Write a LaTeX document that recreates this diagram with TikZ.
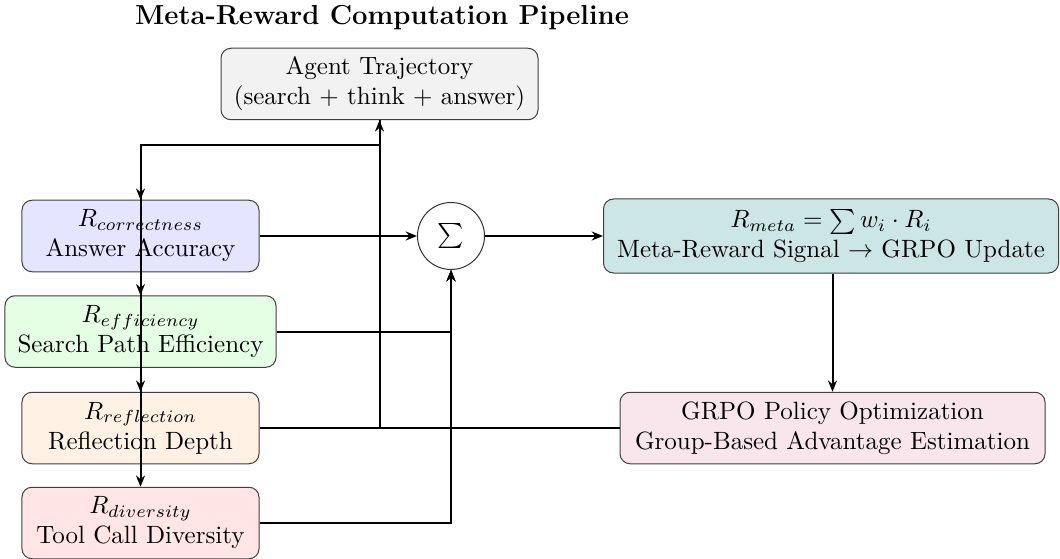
\documentclass[tikz,border=0pt]{standalone}
\usetikzlibrary{arrows.meta,positioning}
\begin{document}
\begin{tikzpicture}[x=0.4pt,y=-0.4pt,
  box/.style={draw=black!75, rounded corners=4pt, align=center, inner sep=3pt, minimum height=28.6pt},
  arr/.style={thick, -{Stealth[length=4.5pt,width=3.6pt]}},
  ln/.style={thick}]
\useasboundingbox (0,0) rectangle (1060,559);
\node[font=\fontsize{11}{13}\selectfont\bfseries] (title) at (382,18) {Meta-Reward Computation Pipeline};
\node[box, fill=black!5, minimum width=126.8pt] (agent) at (379.5,84) {Agent Trajectory\\(search + think + answer)};
\node[box, fill=blue!10, minimum width=94.8pt] (corr) at (140.5,236) {$R_{correctness}$\\Answer Accuracy};
\node[box, fill=green!10, minimum width=108.4pt] (eff) at (140.5,331.5) {$R_{efficiency}$\\Search Path Efficiency};
\node[box, fill=orange!10, minimum width=94.8pt] (refl) at (140.5,428) {$R_{reflection}$\\Reflection Depth};
\node[box, fill=red!10, minimum width=94.8pt] (div) at (140.5,523) {$R_{diversity}$\\Tool Call Diversity};
\node[draw=black!80, circle, minimum size=26.8pt, inner sep=1pt] (sum) at (451,236) {$\sum$};
\node[box, fill=teal!20, minimum width=182pt, minimum height=29.6pt] (meta) at (831,236) {$R_{meta} = \sum w_i \cdot R_i$\\Meta-Reward Signal $\rightarrow$ GRPO Update};
\node[box, fill=purple!10, minimum width=170pt] (grpo) at (832.5,428) {GRPO Policy Optimization\\Group-Based Advantage Estimation};
\draw[arr] (agent.south) -- ++(0,25) -| (corr.north);
\draw[arr] (agent.south) -- ++(0,25) -| (eff.north);
\draw[arr] (agent.south) -- ++(0,25) -| (refl.north);
\draw[arr] (agent.south) -- ++(0,25) -| (div.north);
\draw[arr] (corr.east) -- (sum.west);
\draw[arr] (eff.east) -| (sum.south);
\draw[arr] (refl.east) -| (sum.south);
\draw[arr] (div.east) -| (sum.south);
\draw[arr] (sum.east) -- (meta.west);
\draw[arr] (meta.south -| grpo.north) -- (grpo.north);
\draw[arr] (grpo.west) -| (agent.south);
\end{tikzpicture}
\end{document}
